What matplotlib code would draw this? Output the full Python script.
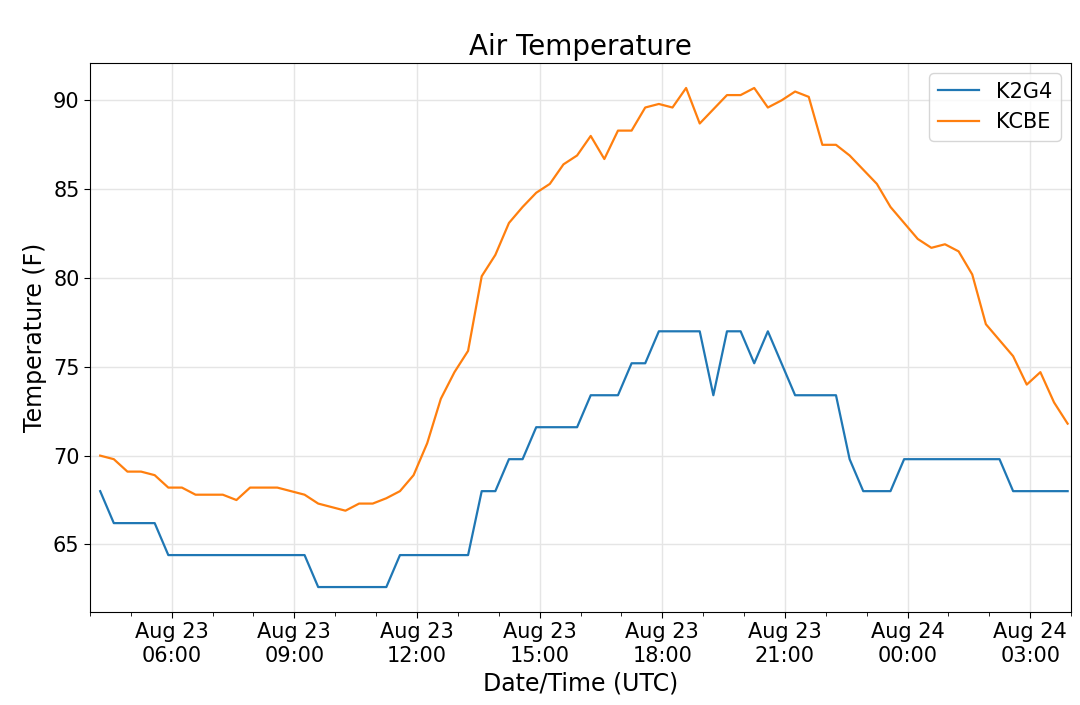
import numpy as np
import pandas as pd
import matplotlib
matplotlib.use('Agg')
import matplotlib.pyplot as plt
import matplotlib.dates as mdates

# observation times, every 20 minutes (UTC)
times = pd.date_range('2023-08-23 04:15', periods=72, freq='20min')

# K2G4 air temperature (F)
k2g4 = [68.0,
        66.2, 66.2, 66.2, 66.2,
        64.4, 64.4, 64.4, 64.4, 64.4, 64.4, 64.4, 64.4, 64.4, 64.4, 64.4,
        62.6, 62.6, 62.6, 62.6, 62.6, 62.6,
        64.4, 64.4, 64.4, 64.4, 64.4, 64.4,
        68.0, 68.0, 69.8, 69.8,
        71.6, 71.6, 71.6, 71.6,
        73.4, 73.4, 73.4, 75.2, 75.2,
        77.0, 77.0, 77.0, 77.0, 73.4, 77.0, 77.0, 75.2, 77.0, 75.2,
        73.4, 73.4, 73.4, 73.4, 69.8,
        68.0, 68.0, 68.0,
        69.8, 69.8, 69.8, 69.8, 69.8, 69.8, 69.8, 69.8,
        68.0, 68.0, 68.0, 68.0, 68.0]

# KCBE air temperature (F)
kcbe = [70.0, 69.8, 69.1, 69.1, 68.9, 68.2, 68.2, 67.8, 67.8, 67.8,
        67.5, 68.2, 68.2, 68.2, 68.0, 67.8, 67.3, 67.1, 66.9, 67.3,
        67.3, 67.6, 68.0, 68.9, 70.7, 73.2, 74.7, 75.9, 80.1, 81.3,
        83.1, 84.0, 84.8, 85.3, 86.4, 86.9, 88.0, 86.7, 88.3, 88.3,
        89.6, 89.8, 89.6, 90.7, 88.7, 89.5, 90.3, 90.3, 90.7, 89.6,
        90.0, 90.5, 90.2, 87.5, 87.5, 86.9, 86.1, 85.3, 84.0, 83.1,
        82.2, 81.7, 81.9, 81.5, 80.2, 77.4, 76.5, 75.6, 74.0, 74.7,
        73.0, 71.8]

fig = plt.figure(figsize=(10.8, 7.05), dpi=100)
ax = fig.add_axes([0.0833, 0.1319, 0.9084, 0.7787])

ax.plot(times, k2g4, color='#1f77b4', linewidth=1.6, label='K2G4')
ax.plot(times, kcbe, color='#ff7f0e', linewidth=1.6, label='KCBE')

ax.set_xlim(pd.Timestamp('2023-08-23 04:00'), pd.Timestamp('2023-08-24 04:00'))
ax.xaxis.set_major_locator(mdates.HourLocator(byhour=range(0, 24, 3)))
ax.xaxis.set_minor_locator(mdates.HourLocator())
ax.xaxis.set_major_formatter(mdates.DateFormatter('%b %d\n%H:%M'))

ax.grid(True, color='#e5e5e5', linewidth=1)
ax.tick_params(axis='both', which='major', labelsize=15, length=4)
ax.tick_params(axis='x', which='minor', length=3)

ax.set_title('Air Temperature', fontsize=20)
ax.set_xlabel('Date/Time (UTC)', fontsize=17)
ax.set_ylabel('Temperature (F)', fontsize=17)
ax.legend(loc='upper right', fontsize=15)

fig.savefig('out.png', dpi=100)
